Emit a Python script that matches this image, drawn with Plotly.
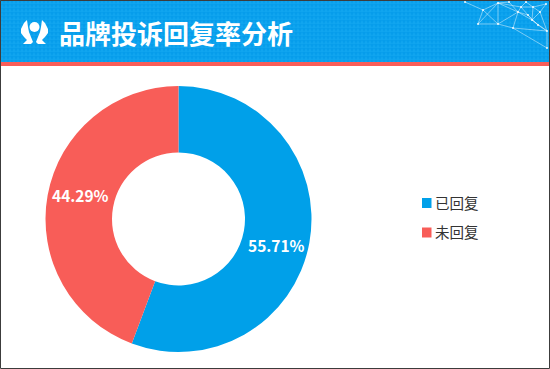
import base64
import plotly.graph_objects as go

W, H = 550, 369
labels = ["已回复", "未回复"]
values = [55.71, 44.29]
colors = ["#00A0E9", "#F85D58"]
title_text = "品牌投诉回复率分析"
FONT = "Noto Sans CJK SC"

def px(x): return x / W
def py(y): return 1 - y / H

# header texture
svg = ('<svg xmlns="http://www.w3.org/2000/svg" width="550" height="62"><defs>'
       '<pattern id="p" width="4" height="4" patternUnits="userSpaceOnUse">'
       '<rect width="4" height="4" fill="#069DEB"/><path d="M0 4L2 0L4 4Z" fill="#10A5EF"/></pattern></defs>'
       '<rect width="550" height="62" fill="url(#p)"/></svg>')
header_src = "data:image/svg+xml;base64," + base64.b64encode(svg.encode()).decode()

# decorative network in the header corner
nodes = [(465,2),(498,3),(483,10),(518,12),(521,7),(533,7),(532,20),(528,15),(513,28),(498,24),(478,24),(538,25),(547,31),(547,48),(540,12),(546,4),(509,2),(526,2)]
edges = [(0,2),(2,1),(1,4),(1,3),(1,9),(2,9),(2,10),(9,10),(9,8),(3,8),(3,9),(3,7),(7,6),(4,3),(4,5),(5,14),(14,6),(6,11),(11,12),(7,11),(6,12),(8,13),(8,12),(12,13),(4,7),(5,6),(14,15),(16,3),(17,4),(15,5),(10,1),(3,6),(14,12),(1,16),(17,5)]

shapes = [
    dict(type="rect", xref="paper", yref="paper", x0=0, x1=1, y0=py(66), y1=py(62), fillcolor="#F85D58", line_width=0, layer="below"),
]
for a, b in edges:
    shapes.append(dict(type="line", xref="paper", yref="paper", x0=px(nodes[a][0]), y0=py(nodes[a][1]),
                       x1=px(nodes[b][0]), y1=py(nodes[b][1]), line=dict(color="rgba(255,255,255,0.45)", width=1), layer="below"))
for x, y in nodes:
    shapes.append(dict(type="circle", xref="paper", yref="paper", x0=px(x-1), x1=px(x+1), y0=py(y+1), y1=py(y-1),
                       fillcolor="rgba(255,255,255,0.9)", line_width=0, layer="below"))

def pth(points):
    return "M" + " L".join(f"{px(x):.5f},{py(y):.5f}" for x, y in points) + " Z"

# logo
left_wing = [(27,20),(24,23),(21,29),(21,33),(24,37),(27,40),(23,44),(31,44),(33,42),(31,37),(29,32),(28,27)]
right_wing = [(69 - x, y) for x, y in left_wing]
for p in (left_wing, right_wing):
    shapes.append(dict(type="path", xref="paper", yref="paper", path=pth(p), fillcolor="white", line_width=0, layer="below"))
shapes.append(dict(type="circle", xref="paper", yref="paper", x0=px(29.5), x1=px(39.5), y0=py(32), y1=py(22),
                   fillcolor="white", line_width=0, layer="below"))

# border
shapes.append(dict(type="rect", xref="paper", yref="paper", x0=px(0.5), x1=px(W-0.5), y0=py(H-0.5), y1=py(0.5),
                   line=dict(color="#3C3C3C", width=1), fillcolor="rgba(0,0,0,0)", layer="above"))

# legend swatches
legend_y = [203, 232.5]
for c, y in zip(colors, legend_y):
    shapes.append(dict(type="rect", xref="paper", yref="paper", x0=px(422), x1=px(431.5), y0=py(y+5), y1=py(y-5),
                       fillcolor=c, line_width=0))

annotations = [dict(text=title_text, xref="paper", yref="paper", x=px(57), y=py(32.5), xanchor="left", yanchor="middle",
                    showarrow=False, font=dict(size=26, color="white", family=FONT, weight="bold"))]
for lab, y in zip(labels, legend_y):
    annotations.append(dict(text=lab, xref="paper", yref="paper", x=px(433), y=py(y - 1), xanchor="left", yanchor="middle",
                            showarrow=False, font=dict(size=14.5, color="#333333", family=FONT)))
label_pos = [(276, 245), (80.5, 195)]
for v, (x, y) in zip(values, label_pos):
    annotations.append(dict(text=f"{v:.2f}%", xref="paper", yref="paper", x=px(x), y=py(y), xanchor="center", yanchor="middle",
                            showarrow=False, font=dict(size=15.5, color="white", family=FONT, weight="bold")))

fig = go.Figure(go.Pie(
    labels=labels, values=values, sort=False, direction="clockwise", rotation=0, hole=0.5,
    marker=dict(colors=colors, line_width=0),
    textinfo="none",
    domain=dict(x=[45.5/W, 311.5/W], y=[1-352/H, 1-86/H]),
    hoverinfo="label+percent", showlegend=False,
))
fig.update_layout(
    width=W, height=H, margin=dict(l=0, r=0, t=0, b=0), paper_bgcolor="white", autosize=False,
    font=dict(family=FONT, color="#333333", size=14),
    shapes=shapes, annotations=annotations,
    images=[dict(source=header_src, xref="paper", yref="paper", x=0, y=1, sizex=1, sizey=62/H,
                 xanchor="left", yanchor="top", sizing="stretch", layer="below")],
)
fig.write_html("out.html", config={"displayModeBar": False},
               post_script="document.body.style.margin='0';document.body.style.overflow='hidden';")
